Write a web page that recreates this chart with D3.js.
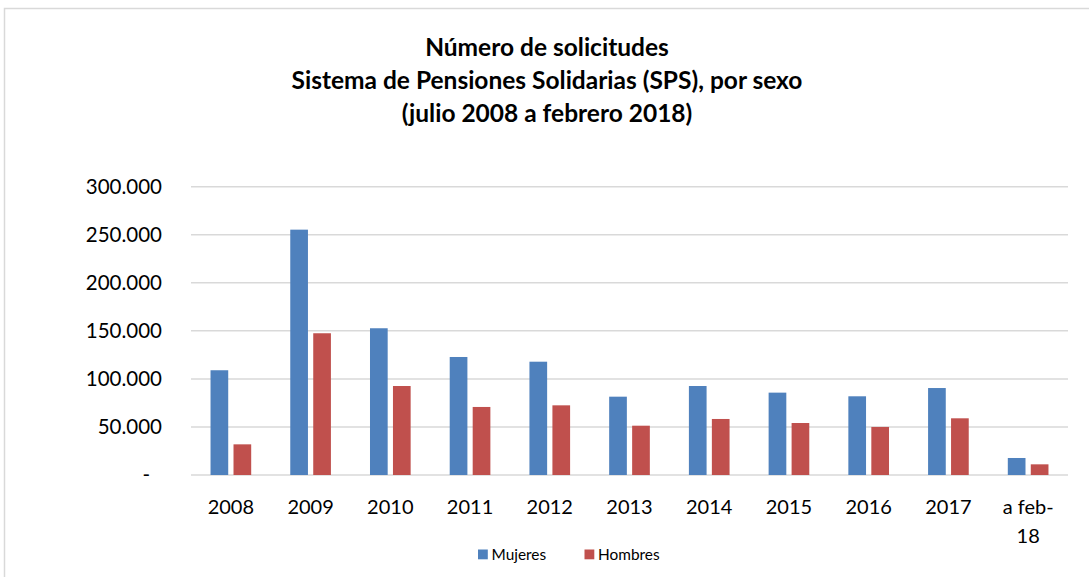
<!DOCTYPE html>
<html>
<head>
<meta charset="utf-8">
<script src="https://cdn.jsdelivr.net/npm/d3@7"></script>
<style>
  body { margin: 0; background: #fff; }
  text { font-family: Lato, "Open Sans", sans-serif; fill: #000; }
</style>
</head>
<body>
<div id="chart"></div>
<script>
// data
const categories = ["2008","2009","2010","2011","2012","2013","2014","2015","2016","2017","a feb-\n18"];
const series = ["Mujeres","Hombres"];
const mujeres = [109000,255300,152700,122800,117900,81500,92600,85700,81900,90500,17700];
const hombres = [31900,147500,92600,70800,72500,51300,58300,54100,50000,59000,11100];
const yTicks = [0,50000,100000,150000,200000,250000,300000];
const titleLines = ["Número de solicitudes","Sistema de Pensiones Solidarias (SPS), por sexo","(julio 2008 a febrero 2018)"];
const colors = {Mujeres:"#4f81bd", Hombres:"#c0504d"};

const W = 1089, H = 577;
const plot = {left:191, right:1068, top:186.7, bottom:475};

const svg = d3.select("#chart").append("svg")
    .attr("width",W).attr("height",H);

// outer frame (only top and left edges are visible)
svg.append("path")
    .attr("d",`M4.5,${H} L4.5,8.5 L${W},8.5`)
    .attr("fill","none").attr("stroke","#d9d9d9").attr("stroke-width",1.5);

// title
svg.append("text")
    .attr("x",547).attr("y",56)
    .attr("text-anchor","middle")
    .style("font-weight","bold").style("font-size","24.5px")
    .selectAll("tspan").data(titleLines).enter()
    .append("tspan")
    .attr("x",547)
    .attr("dy",(d,i)=> i==0 ? 0 : 33)
    .text(d=>d);

const x = d3.scaleBand().domain(categories).range([plot.left,plot.right]);
const bw = x.bandwidth();
const x1 = d3.scaleBand().domain(series).range([bw*0.245,bw*0.755]).paddingInner(0.23);
const y = d3.scaleLinear().domain([0,300000]).range([plot.bottom,plot.top]);

const es = d3.formatLocale({decimal:",",thousands:".",grouping:[3],currency:["$",""]});
const fmt = v => v === 0 ? "-" : es.format(",")(v);

// gridlines
svg.append("g").selectAll("line").data(yTicks).enter()
    .append("line")
    .attr("x1",plot.left).attr("x2",plot.right)
    .attr("y1",d=>y(d)).attr("y2",d=>y(d))
    .attr("stroke","#d9d9d9").attr("stroke-width",1.5);

// y axis
const yAxis = svg.append("g")
    .attr("transform",`translate(${plot.left},0)`)
    .call(d3.axisLeft(y).tickValues(yTicks).tickFormat(fmt).tickSize(0).tickPadding(29));
yAxis.select(".domain").remove();
yAxis.selectAll("text").style("font-size","20.5px").style("font-family","Lato, sans-serif")
    .attr("dx", d => d === 0 ? -12 : 0);

// bars
const rows = categories.map((c,i)=>({cat:c, Mujeres:mujeres[i], Hombres:hombres[i]}));
const groups = svg.append("g").selectAll("g").data(rows).enter()
    .append("g")
    .attr("transform",d=>`translate(${x(d.cat)},0)`);
groups.selectAll("rect")
    .data(d => series.map(s => ({key:s, value:d[s]})))
    .enter().append("rect")
    .attr("x",d=>x1(d.key))
    .attr("width",x1.bandwidth())
    .attr("y",d=>y(d.value))
    .attr("height",d=>y(0)-y(d.value))
    .attr("fill",d=>colors[d.key]);

// x axis labels
const xAxis = svg.append("g")
    .attr("transform",`translate(0,${plot.bottom})`)
    .call(d3.axisBottom(x).tickSize(0).tickFormat(""));
xAxis.select(".domain").remove();
xAxis.selectAll(".tick").append("text")
    .attr("text-anchor","middle")
    .attr("y",39)
    .style("font-size","20px")
    .selectAll("tspan")
    .data(d=>d.split("\n")).enter()
    .append("tspan")
    .attr("x",0)
    .attr("dy",(d,i)=> i==0 ? 0 : 29)
    .text(d=>d);

// legend
const legend = svg.append("g").attr("transform","translate(478,549.5)");
const items = legend.selectAll("g").data(series).enter()
    .append("g")
    .attr("transform",(d,i)=>`translate(${i*106.5},0)`);
items.append("rect")
    .attr("width",9.8).attr("height",9.8)
    .attr("fill",d=>colors[d]);
items.append("text")
    .attr("x",13.5).attr("y",10)
    .style("font-size","15.4px")
    .text(d=>d);
</script>
</body>
</html>
